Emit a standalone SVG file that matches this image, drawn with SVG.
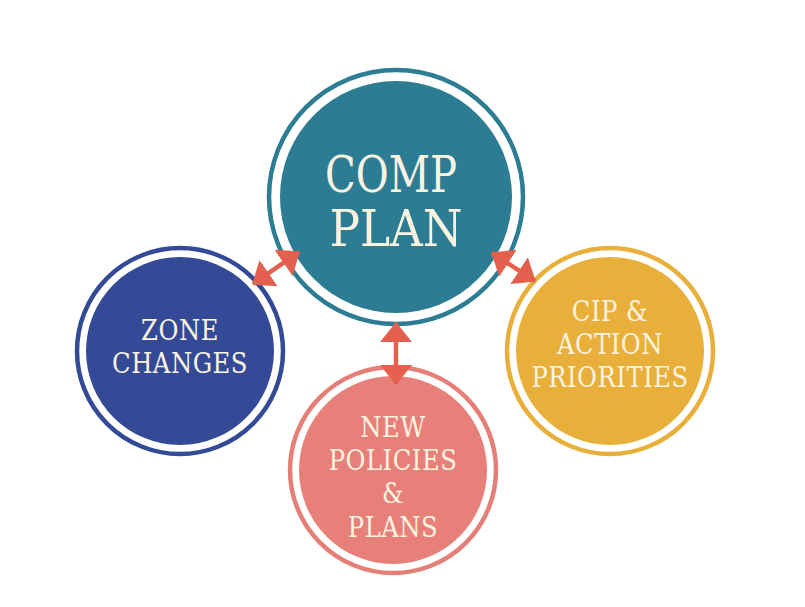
<svg xmlns="http://www.w3.org/2000/svg" width="805" height="607" viewBox="0 0 805 607">
<defs>
<style>
.ring{fill:none;stroke-width:4.5}
.lbl{font-family:"DejaVu Serif Condensed","DejaVu Serif",serif;fill:#FAF3E0;text-anchor:middle}
.big{font-size:50px}
.sm{font-size:27px;letter-spacing:0.5px}
.conn{stroke:#E3604F;stroke-width:4.5;fill:none}
</style>
<marker id="ah" viewBox="0 0 20 32" refX="19" refY="16" markerWidth="20" markerHeight="32" markerUnits="userSpaceOnUse" orient="auto-start-reverse">
<path d="M0,0 L20,16 L0,32 z" fill="#E3604F"/>
</marker>
</defs>
<rect width="805" height="607" fill="#fff"/>
<g id="comp-plan">
<circle cx="396" cy="197" r="127" class="ring" stroke="#2C7C93"/>
<circle cx="396" cy="197" r="116" fill="#2C7C93"/>
<text class="lbl big" x="391" y="192" textLength="132" lengthAdjust="spacingAndGlyphs">COMP</text>
<text class="lbl big" x="396" y="246" textLength="133" lengthAdjust="spacingAndGlyphs">PLAN</text>
</g>
<g id="zone-changes">
<circle cx="180" cy="351" r="103" class="ring" stroke="#344A96"/>
<circle cx="180" cy="351" r="94" fill="#344A96"/>
<text class="lbl sm" x="180" y="340">ZONE</text>
<text class="lbl sm" x="180" y="373">CHANGES</text>
</g>
<g id="cip">
<circle cx="610" cy="351" r="103" class="ring" stroke="#E8B03A"/>
<circle cx="610" cy="351" r="94" fill="#E8B03A"/>
<text class="lbl sm" x="610" y="321">CIP &amp;</text>
<text class="lbl sm" x="610" y="354">ACTION</text>
<text class="lbl sm" x="610" y="387">PRIORITIES</text>
</g>
<g id="new-policies">
<circle cx="393" cy="470" r="103" class="ring" stroke="#E57E77"/>
<circle cx="393" cy="470" r="94" fill="#E8807A"/>
<text class="lbl sm" x="393" y="437">NEW</text>
<text class="lbl sm" x="393" y="470">POLICIES</text>
<text class="lbl sm" x="393" y="503">&amp;</text>
<text class="lbl sm" x="393" y="537">PLANS</text>
</g>
<g id="connectors">
<line class="conn" x1="253" y1="284" x2="299" y2="252" marker-start="url(#ah)" marker-end="url(#ah)"/>
<line class="conn" x1="492" y1="253" x2="535" y2="281" marker-start="url(#ah)" marker-end="url(#ah)"/>
<line class="conn" x1="396" y1="323" x2="396" y2="384" marker-start="url(#ah)" marker-end="url(#ah)"/>
</g>
</svg>
